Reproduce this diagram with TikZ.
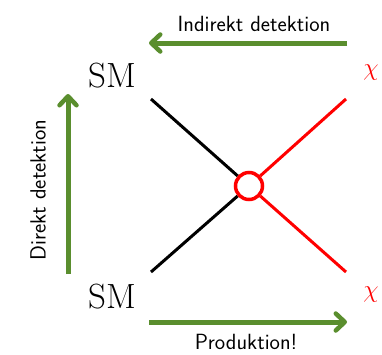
\documentclass[tikz,border=0pt]{standalone}
\usetikzlibrary{arrows.meta}
\definecolor{arrowgreen}{RGB}{90,142,46}
\begin{document}
\begin{tikzpicture}[x=1pt,y=-1pt,
  leg/.style={line width=3pt},
  flow/.style={arrowgreen,line width=5pt,-{Straight Barb[length=9pt,width=17pt,line width=4.5pt,round]}},
  particle/.style={font=\fontsize{35}{35}\selectfont,inner sep=0pt},
  dm/.style={red,font=\fontsize{40}{40}\selectfont,inner sep=0pt},
  caption/.style={font=\sffamily\fontsize{22}{22}\selectfont,inner sep=0pt}]
\useasboundingbox (0,0) rectangle (382,354);
% vertex
\node[circle,draw=red,line width=3.5pt,fill=white,minimum size=27pt,inner sep=0pt] (v) at (249,186) {};
% external legs
\coordinate (tl) at (151,99);
\coordinate (bl) at (151,272);
\coordinate (tr) at (346,99);
\coordinate (br) at (346,272);
\draw[leg,black] (tl) -- (v);
\draw[leg,black] (bl) -- (v);
\draw[leg,red] (tr) -- (v);
\draw[leg,red] (br) -- (v);
% particle labels
\node[particle] (smt) at (112,76) {SM};
\node[particle] (smb) at (112,297) {SM};
\node[dm] (cht) at (371,73) {$\chi$};
\node[dm] (chb) at (371,295) {$\chi$};
% process arrows
\coordinate (a1) at (347,43);
\coordinate (a2) at (149,43);
\draw[flow] (a1) -- (a2);
\node[caption] (ind) at (254,24) {Indirekt detektion};
\coordinate (b1) at (149,322);
\coordinate (b2) at (347,322);
\draw[flow] (b1) -- (b2);
\node[caption] (prod) at (246,342) {Produktion!};
\coordinate (c1) at (68,274);
\coordinate (c2) at (68,94);
\draw[flow] (c1) -- (c2);
\node[caption,rotate=90] (dir) at (38,190) {Direkt detektion};
\end{tikzpicture}
\end{document}
